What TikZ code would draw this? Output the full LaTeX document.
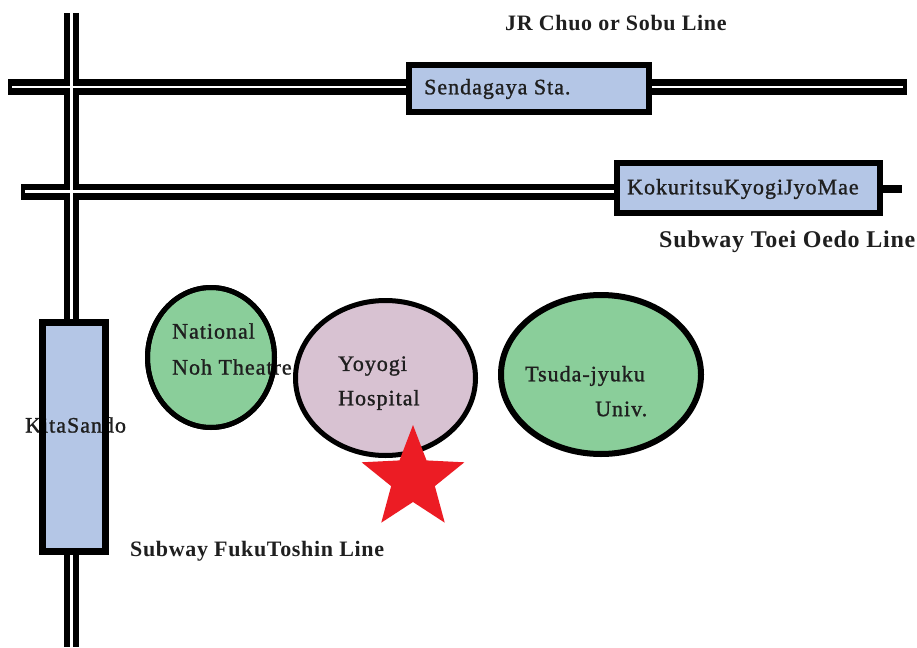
\documentclass[tikz,border=0pt]{standalone}
\usepackage{fontspec}
\setmainfont{Liberation Serif}
\newfontfamily\placefont[LetterSpace=4.5,FakeBold=1.2]{Liberation Serif}
\newfontfamily\linefont[LetterSpace=3]{Liberation Serif}
\usetikzlibrary{shapes.geometric}
\definecolor{stnblue}{HTML}{B4C6E6}
\definecolor{parkgreen}{HTML}{8ACE9A}
\definecolor{hosppink}{HTML}{D8C2D2}
\definecolor{starred}{HTML}{EC1C24}
\tikzset{
  railout/.style={line width=15pt, black, line cap=butt},
  railin/.style={line width=2.8pt, white, line cap=butt},
  stnbox/.style={draw=black, fill=stnblue, line width=6pt},
  place/.style={ellipse, draw=black, line width=5pt, inner sep=0pt},
  lbl/.style={font=\placefont\fontsize{22}{26}\selectfont, inner sep=0pt, anchor=west, text=black!88},
  linelbl/.style={font=\linefont\bfseries\fontsize{22}{26}\selectfont, inner sep=0pt, anchor=west, text=black!88},
}
\begin{document}
\begin{tikzpicture}[x=1pt,y=-1pt]
\useasboundingbox (0,0) rectangle (917,647);
\fill[white] (0,0) rectangle (917,647);
% line ends
\coordinate (jrW) at (8,87);
\coordinate (jrE) at (907,87);
\coordinate (oeW) at (21,191.5);
\coordinate (oeE) at (614,191.5);
\coordinate (fkN) at (71.5,13);
\coordinate (fkS) at (71.5,647);
% black rails
\draw[railout, line width=16pt] (jrW) -- (jrE);
\draw[railout, line width=16pt] (oeW) -- (oeE);
\draw[railout] (fkN) -- (fkS);
% white inner lines
\draw[railin] ([xshift=4pt]jrW) -- ([xshift=-4pt]jrE);
\draw[railin] ([xshift=4pt]oeW) -- (oeE);
\draw[railin] ([yshift=4pt]fkN) -- (fkS);
% Oedo stub right of station
\fill[black] (883,185) rectangle (902,193);
% stations
\node[stnbox, minimum width=240pt, minimum height=47pt, inner sep=0pt] (sen) at (529,88.5) {};
\node[lbl] (sentxt) at (424,89) {Sendagaya Sta.};
\node[stnbox, minimum width=263pt, minimum height=50pt, inner sep=0pt] (kok) at (748.5,188) {};
\node[lbl] (koktxt) at (627,189) {KokuritsuKyogiJyoMae};
\node[fill=stnblue, minimum width=63pt, minimum height=229pt, inner sep=0pt] (kita) at (74,437) {};
\node[lbl] (kitatxt) at (25,425) {KitaSando};
\node[draw=black, line width=7pt, minimum width=63pt, minimum height=229pt, inner sep=0pt] (kitab) at (74,437) {};
% places
\node[place, fill=parkgreen, minimum width=127pt, minimum height=140pt] (noh) at (211,357.5) {};
\node[lbl] (nohtxt1) at (172,331) {National};
\node[lbl] (nohtxt2) at (172,367) {Noh Theatre};
\node[place, draw=none, minimum width=127pt, minimum height=140pt] (nohb) at (211,357.5) {};
\draw[black, line width=5pt] (nohb.center) ellipse (63.5pt and 70pt);
\node[place, fill=hosppink, minimum width=180pt, minimum height=155pt] (yoy) at (385.5,378) {};
\node[lbl] (yoytxt1) at (338,366) {Yoyogi};
\node[lbl] (yoytxt2) at (338,400) {Hospital};
\node[place, fill=parkgreen, line width=6pt, minimum width=200pt, minimum height=159pt] (tsu) at (601,374.5) {};
\node[lbl] (tsutxt1) at (525,376) {Tsuda-jyuku};
\node[lbl] (tsutxt2) at (595,409) {Univ.};
% star
\node[star, star points=5, star point ratio=2.35, fill=starred, minimum size=108pt, inner sep=0pt] (mark) at (413,479) {};
% line labels
\node[linelbl] (jrlbl) at (505,23) {JR Chuo or Sobu Line};
\node[linelbl, font=\linefont\bfseries\fontsize{24}{28}\selectfont] (oelbl) at (659,242) {Subway Toei Oedo Line};
\node[linelbl] (fklbl) at (130,551) {Subway FukuToshin Line};
\end{tikzpicture}
\end{document}
